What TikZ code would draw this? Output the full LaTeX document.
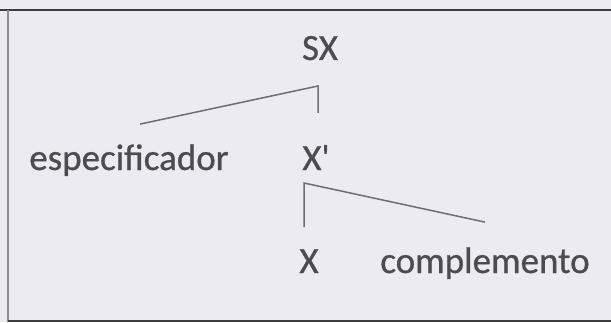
\documentclass[tikz,border=0pt]{standalone}
\usepackage{fontspec}
\setmainfont{Carlito}
\newfontfamily\treefont{Carlito}[FakeBold=0.7]
\usepackage{xcolor}
\definecolor{paper}{HTML}{ECEBF1}
\definecolor{ink}{HTML}{4C4C50}
\definecolor{branch}{HTML}{6E6E74}
\definecolor{rule}{HTML}{3C3C40}
\tikzset{
  lbl/.style={inner sep=0pt,anchor=base,text=ink,font=\treefont\fontsize{37}{44}\selectfont},
  br/.style={branch,line width=1.5pt},
  frame/.style={rule,line width=1.8pt}
}
\begin{document}
\begin{tikzpicture}[x=1pt,y=1pt]
\fill[paper] (0,0) rectangle (611,322);
\useasboundingbox (0,0) rectangle (611,322);
\draw[frame] (0,312) -- (611,312);
\draw[branch!80,line width=1.8pt] (8,312) -- (8,0);
\draw[frame] (8,1) -- (611,1);
% nodes
\node[lbl] (sx) at (320,262) {SX};
\node[lbl] (spec) at (129,152) {especificador};
\node[lbl] (xbar) at (316,152) {X\textquotesingle};
\node[lbl] (x) at (309,49) {X};
\node[lbl] (comp) at (485,49) {complemento};
% corners of the branches
\coordinate (sxfoot) at (318,236);
\coordinate (xbarfoot) at (304,139);
% branches
\draw[br] ([xshift=11pt,yshift=20pt]spec.north) -- (sxfoot) -- (sxfoot |- 0,209);
\draw[br] ([yshift=22pt]x.north -| xbarfoot) -- (xbarfoot) -- ([yshift=25pt]comp.north);
\end{tikzpicture}
\end{document}
